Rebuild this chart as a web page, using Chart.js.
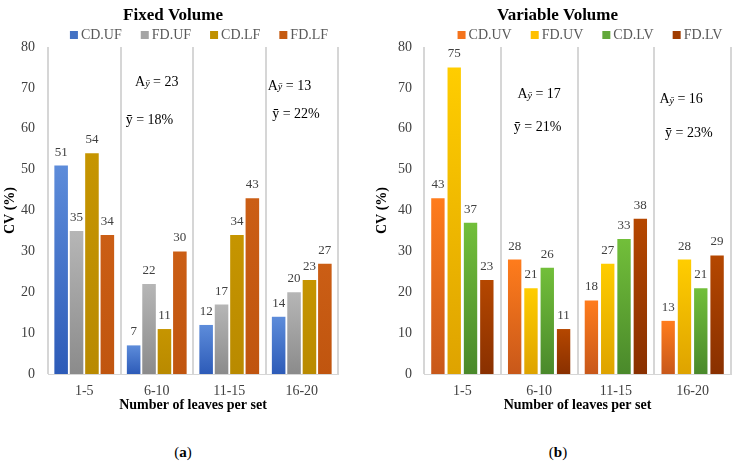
<!DOCTYPE html>
<html>
<head>
<meta charset="utf-8">
<script src="https://cdn.jsdelivr.net/npm/chart.js@4.4.0/dist/chart.umd.min.js"></script>
<style>
  html, body { margin: 0; padding: 0; background: #fff; }
  body { width: 738px; height: 463px; position: relative; overflow: hidden; font-family: "Liberation Serif", serif; }
  canvas { position: absolute; top: 0; }
  #fixedChart { left: 0; }
  #variableChart { left: 370px; }
  .cap { position: absolute; top: 442px; font-size: 15px; line-height: 20px; transform: translateX(-50%); color: #000; }
</style>
</head>
<body>
<canvas id="fixedChart" width="370" height="418"></canvas>
<canvas id="variableChart" width="368" height="418"></canvas>
<div class="cap" style="left:183px">(<b>a</b>)</div>
<div class="cap" style="left:558px">(<b>b</b>)</div>

<script>
// data
const categories = ['1-5', '6-10', '11-15', '16-20'];

// (a) fixed volume
const cdUF = [51, 7, 12, 14];
const fdUF = [35, 22, 17, 20];
const cdLF = [54, 11, 34, 23];
const fdLF = [34, 30, 43, 27];

// (b) variable volume
const cdUV = [43, 28, 18, 13];
const fdUV = [75, 21, 27, 28];
const cdLV = [37, 26, 33, 21];
const fdLV = [23, 11, 38, 29];

const yMin = 0, yMax = 80, yStep = 10;

// notes inside the plots: x = category index, y = value on the axis
const notesFixed = [
  { type: 'A', value: '23', x: 1.0, y: 71.4 },
  { type: 'mean', value: '18%', x: 0.9, y: 62.1 },
  { type: 'A', value: '13', x: 2.83, y: 70.5 },
  { type: 'mean', value: '22%', x: 2.92, y: 63.6 }
];
const notesVariable = [
  { type: 'A', value: '17', x: 1.0, y: 68.5 },
  { type: 'mean', value: '21%', x: 0.98, y: 60.4 },
  { type: 'A', value: '16', x: 2.85, y: 67.2 },
  { type: 'mean', value: '23%', x: 2.95, y: 59.0 }
];

const FONT = '"Liberation Serif", serif';

// gradient for each bar, lighter at its top
function barGradient(top, bottom) {
  return function (c) {
    const chart = c.chart;
    if (!chart.chartArea || c.type !== 'data') return bottom;
    const y = chart.scales.y;
    const y0 = y.getPixelForValue(c.raw);
    const y1 = y.getPixelForValue(0);
    if (!isFinite(y0) || !isFinite(y1) || y0 === y1) return bottom;
    const g = chart.ctx.createLinearGradient(0, y0, 0, y1);
    g.addColorStop(0, top);
    g.addColorStop(1, bottom);
    return g;
  };
}

// titles, legend, value labels and notes
const decorPlugin = {
  id: 'decor',
  afterDatasetsDraw(chart) {
    const cfg = chart.options.plugins.decor;
    const ctx = chart.ctx;
    const xs = chart.scales.x, ys = chart.scales.y;
    ctx.save();

    // value labels
    ctx.font = '13px ' + FONT;
    ctx.fillStyle = '#404040';
    ctx.textAlign = 'center';
    ctx.textBaseline = 'alphabetic';
    chart.data.datasets.forEach((ds, i) => {
      chart.getDatasetMeta(i).data.forEach((bar, j) => {
        ctx.fillText(String(ds.data[j]), bar.x, bar.y - 10);
      });
    });

    // notes
    ctx.fillStyle = '#000';
    ctx.textBaseline = 'middle';
    ctx.textAlign = 'left';
    cfg.notes.forEach(n => {
      const cx = xs.getPixelForValue(n.x);
      const cy = ys.getPixelForValue(n.y);
      if (n.type === 'A') {
        ctx.font = '14px ' + FONT;
        const wA = ctx.measureText('A').width;
        const rest = ' = ' + n.value;
        const wR = ctx.measureText(rest).width;
        ctx.font = 'italic 10px ' + FONT;
        const wS = ctx.measureText('ȳ').width;
        let x = cx - (wA + wS + wR) / 2;
        ctx.font = '14px ' + FONT;
        ctx.fillText('A', x, cy);
        x += wA;
        ctx.font = 'italic 10px ' + FONT;
        ctx.fillText('ȳ', x, cy + 2);
        x += wS;
        ctx.font = '14px ' + FONT;
        ctx.fillText(rest, x, cy);
      } else {
        ctx.font = '14px ' + FONT;
        const t = 'ȳ = ' + n.value;
        const w = ctx.measureText(t).width;
        ctx.fillText(t, cx - w / 2, cy);
      }
    });

    // title
    ctx.font = 'bold 17px ' + FONT;
    ctx.fillStyle = '#000';
    ctx.textAlign = 'center';
    ctx.textBaseline = 'middle';
    ctx.fillText(cfg.title, cfg.titleX, 16);

    // legend
    ctx.font = '14px ' + FONT;
    ctx.textAlign = 'left';
    const box = 8, gap = 3, space = 19;
    const items = chart.data.datasets.map(ds => ({ text: ds.label, color: ds.legendColor, w: ctx.measureText(ds.label).width }));
    let total = items.reduce((s, it) => s + box + gap + it.w, 0) + space * (items.length - 1);
    let lx = cfg.legendX - total / 2;
    const ly = 35;
    items.forEach(it => {
      ctx.fillStyle = it.color;
      ctx.fillRect(lx, ly - box / 2, box, box);
      ctx.fillStyle = '#595959';
      ctx.fillText(it.text, lx + box + gap, ly);
      lx += box + gap + it.w + space;
    });

    ctx.restore();
  }
};

function makeChart(id, series, opts) {
  return new Chart(document.getElementById(id), {
    type: 'bar',
    data: {
      labels: categories,
      datasets: series.map(s => ({
        label: s.label,
        data: s.data,
        legendColor: s.legend,
        backgroundColor: barGradient(s.top, s.bottom),
        borderWidth: 0,
        categoryPercentage: opts.catPct,
        barPercentage: opts.barPct
      }))
    },
    options: {
      responsive: false,
      animation: false,
      layout: { padding: { top: 47, right: opts.padRight, bottom: 0, left: 0 } },
      plugins: {
        legend: { display: false },
        title: { display: false },
        tooltip: { enabled: false },
        decor: { title: opts.title, titleX: opts.titleX, legendX: opts.legendX, notes: opts.notes }
      },
      scales: {
        x: {
          grid: { offset: true, color: '#d6d6d6', lineWidth: 2, drawTicks: false },
          border: { display: true, color: '#d6d6d6', width: 1 },
          ticks: { color: '#404040', padding: 9, font: { family: FONT, size: 14 } },
          title: {
            display: true, text: 'Number of leaves per set', color: '#000',
            font: { family: FONT, size: 14, weight: 'bold' }, padding: { top: 0, bottom: 4 }
          },
          afterFit: scale => { scale.height = 44; }
        },
        y: {
          min: yMin, max: yMax,
          grid: { display: false, drawTicks: false },
          border: { display: false },
          ticks: { stepSize: yStep, color: '#404040', padding: opts.tickPad, font: { family: FONT, size: 14 } },
          title: {
            display: true, text: 'CV (%)', color: '#000',
            font: { family: FONT, size: 14, weight: 'bold' }, padding: { top: opts.titlePad, bottom: 0 }
          },
          afterFit: scale => { scale.width = opts.yWidth; }
        }
      }
    },
    plugins: [decorPlugin]
  });
}

makeChart('fixedChart', [
  { label: 'CD.UF', data: cdUF, top: '#5d8cda', bottom: '#2d5bb8', legend: '#4472c4' },
  { label: 'FD.UF', data: fdUF, top: '#b6b6b6', bottom: '#8b8b8b', legend: '#a5a5a5' },
  { label: 'CD.LF', data: cdLF, top: '#c69500', bottom: '#b98a00', legend: '#bf9000' },
  { label: 'FD.LF', data: fdLF, top: '#cb5e15', bottom: '#c0550f', legend: '#c55a11' }
], { title: 'Fixed Volume', titleX: 173, legendX: 199, notes: notesFixed,
     padRight: 32, yWidth: 48, tickPad: 13, titlePad: 2, catPct: 0.85, barPct: 0.88 });

makeChart('variableChart', [
  { label: 'CD.UV', data: cdUV, top: '#ff7c1c', bottom: '#c8581a', legend: '#f4731c' },
  { label: 'FD.UV', data: fdUV, top: '#ffcd00', bottom: '#dea300', legend: '#ffc000' },
  { label: 'CD.LV', data: cdLV, top: '#72bf3a', bottom: '#4a892b', legend: '#62a83a' },
  { label: 'FD.LV', data: fdLV, top: '#b54700', bottom: '#893000', legend: '#a03c00' }
], { title: 'Variable Volume', titleX: 187.5, legendX: 220, notes: notesVariable,
     padRight: 7, yWidth: 54, tickPad: 12, titlePad: 4, catPct: 0.85, barPct: 0.82 });
</script>
</body>
</html>
